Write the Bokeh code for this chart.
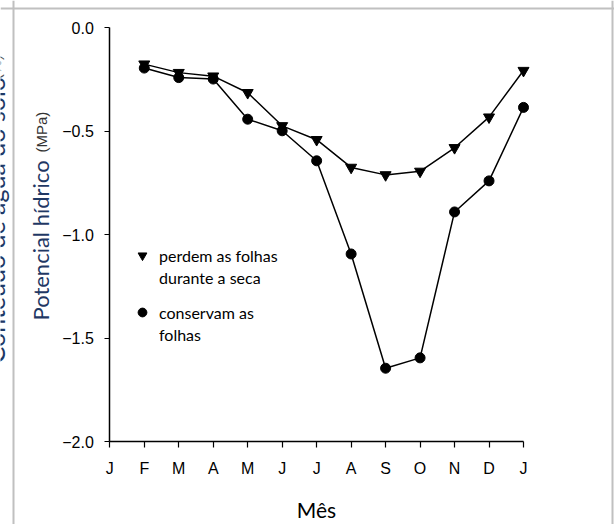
from math import pi
from bokeh.plotting import figure
from bokeh.models import (ColumnDataSource, FixedTicker, Label, Legend, LegendItem,
                          Span, Range1d)
from bokeh.embed import file_html
from bokeh.resources import INLINE

# ---- data ----
month_labels = ["J", "F", "M", "A", "M", "J", "J", "A", "S", "O", "N", "D", "J"]
month_pos = list(range(13))
x_months = [1, 2, 3, 4, 5, 6, 7, 8, 9, 10, 11, 12]
perdem = [-0.177, -0.218, -0.235, -0.315, -0.475, -0.542, -0.676, -0.712, -0.695, -0.581, -0.433, -0.208]
conservam = [-0.196, -0.242, -0.249, -0.443, -0.499, -0.644, -1.094, -1.646, -1.596, -0.891, -0.741, -0.386]
y_ticks = [0.0, -0.5, -1.0, -1.5, -2.0]
y_tick_labels = ["0.0", "\u22120.5", "\u22121.0", "\u22121.5", "\u22122.0"]

W, H = 614, 524
# pixel placement of the axes box inside the picture
AX_L, AX_R, AX_T, AX_B = 109.3, 523.0, 27.0, 441.0
px_x = (AX_R - AX_L) / 12.0
px_y = (AX_B - AX_T) / 2.0
x_rng = Range1d(-AX_L / px_x, (W - AX_L) / px_x)
y_rng = Range1d(-2.0 - (H - AX_B) / px_y, AX_T / px_y)

p = figure(width=W, height=H, x_range=x_rng, y_range=y_rng,
           output_backend="svg", toolbar_location=None,
           min_border=0, min_border_left=0, min_border_right=0,
           min_border_top=0, min_border_bottom=0)
p.grid.visible = False
p.outline_line_color = None
p.background_fill_color = "white"
p.border_fill_color = "white"

tick_font = "Liberation Sans"
xa = p.xaxis[0]
xa.fixed_location = -2.0
xa.ticker = FixedTicker(ticks=month_pos)
xa.major_label_overrides = {m: l for m, l in zip(month_pos, month_labels)}
xa.bounds = (0, 12)
ya = p.yaxis[0]
ya.fixed_location = 0.0
ya.ticker = FixedTicker(ticks=y_ticks)
ya.major_label_overrides = {t: l for t, l in zip(y_ticks, y_tick_labels)}
ya.bounds = (-2, 0)
for ax in (xa, ya):
    ax.axis_line_width = 1.5
    ax.axis_line_color = "black"
    ax.major_tick_line_width = 1.2
    ax.major_tick_line_color = "black"
    ax.major_tick_in = 0
    ax.minor_tick_in = 0
    ax.minor_tick_out = 0
    ax.major_label_text_font = tick_font
    ax.major_label_text_font_size = "16px"
    ax.major_label_text_color = "black"
xa.major_tick_out = 6
xa.major_label_standoff = 12
ya.major_tick_out = 5
ya.major_label_standoff = 11

xa.axis_label = "Mês"
xa.axis_label_text_font = "Lato"
xa.axis_label_text_font_style = "normal"
xa.axis_label_text_font_size = "21px"
xa.axis_label_text_color = "black"
xa.axis_label_standoff = 17

src = ColumnDataSource(dict(x=x_months, perdem=perdem, conservam=conservam))
p.line("x", "perdem", source=src, line_color="black", line_width=1.5)
p.line("x", "conservam", source=src, line_color="black", line_width=1.5)
r_tri = p.scatter("x", "perdem", source=src, marker="inverted_triangle", size=11,
                  fill_color="black", line_color="black")
r_cir = p.scatter("x", "conservam", source=src, marker="circle", size=10,
                  fill_color="black", line_color="black")
blank = p.scatter(x=[], y=[], marker="circle", size=0, fill_alpha=0, line_alpha=0)

def make_legend(items, x, y):
    leg = Legend(items=items, location=(x, y), orientation="vertical",
                 padding=0, margin=0, spacing=0,
                 glyph_width=22, glyph_height=22, label_height=22, label_standoff=6,
                 label_text_font="Lato", label_text_font_size="16px",
                 label_text_color="black",
                 border_line_color=None, background_fill_alpha=0)
    p.add_layout(leg)

make_legend([LegendItem(label="perdem as folhas", renderers=[r_tri]),
             LegendItem(label="durante a seca", renderers=[blank])], 131, H - 288)
make_legend([LegendItem(label="conservam as", renderers=[r_cir]),
             LegendItem(label="folhas", renderers=[blank])], 131, H - 345)

def vlabel(text, x, y_bottom, font, size, color):
    p.add_layout(Label(x=x, y=H - y_bottom, x_units="screen", y_units="screen", angle=pi / 2,
                       text=text, text_font=font, text_font_size=size,
                       text_color=color, text_align="left", text_baseline="middle"))

# y-axis title in two styles
vlabel("Potencial hídrico", 40, 320, "Lato", "22px", "#1f3864")
vlabel("(MPa)", 41, 152, "Liberation Sans", "15px", "#333333")
# neighbouring, cut-off title at the left edge of the screenshot
vlabel("Conteúdo de água do solo", -6, 363, "Lato", "25px", "#1f3864")
vlabel("(%)", -5, 79, "Liberation Sans", "16px", "#555555")

# grey window frame of the screenshot
for loc, dim in ((H - 8, "width"), (13, "height"), (612, "height")):
    p.add_layout(Span(location=loc, location_units="screen", dimension=dim,
                      line_color="#c0c0c0", line_width=2))

open("out.html", "w").write(file_html(p, INLINE))
